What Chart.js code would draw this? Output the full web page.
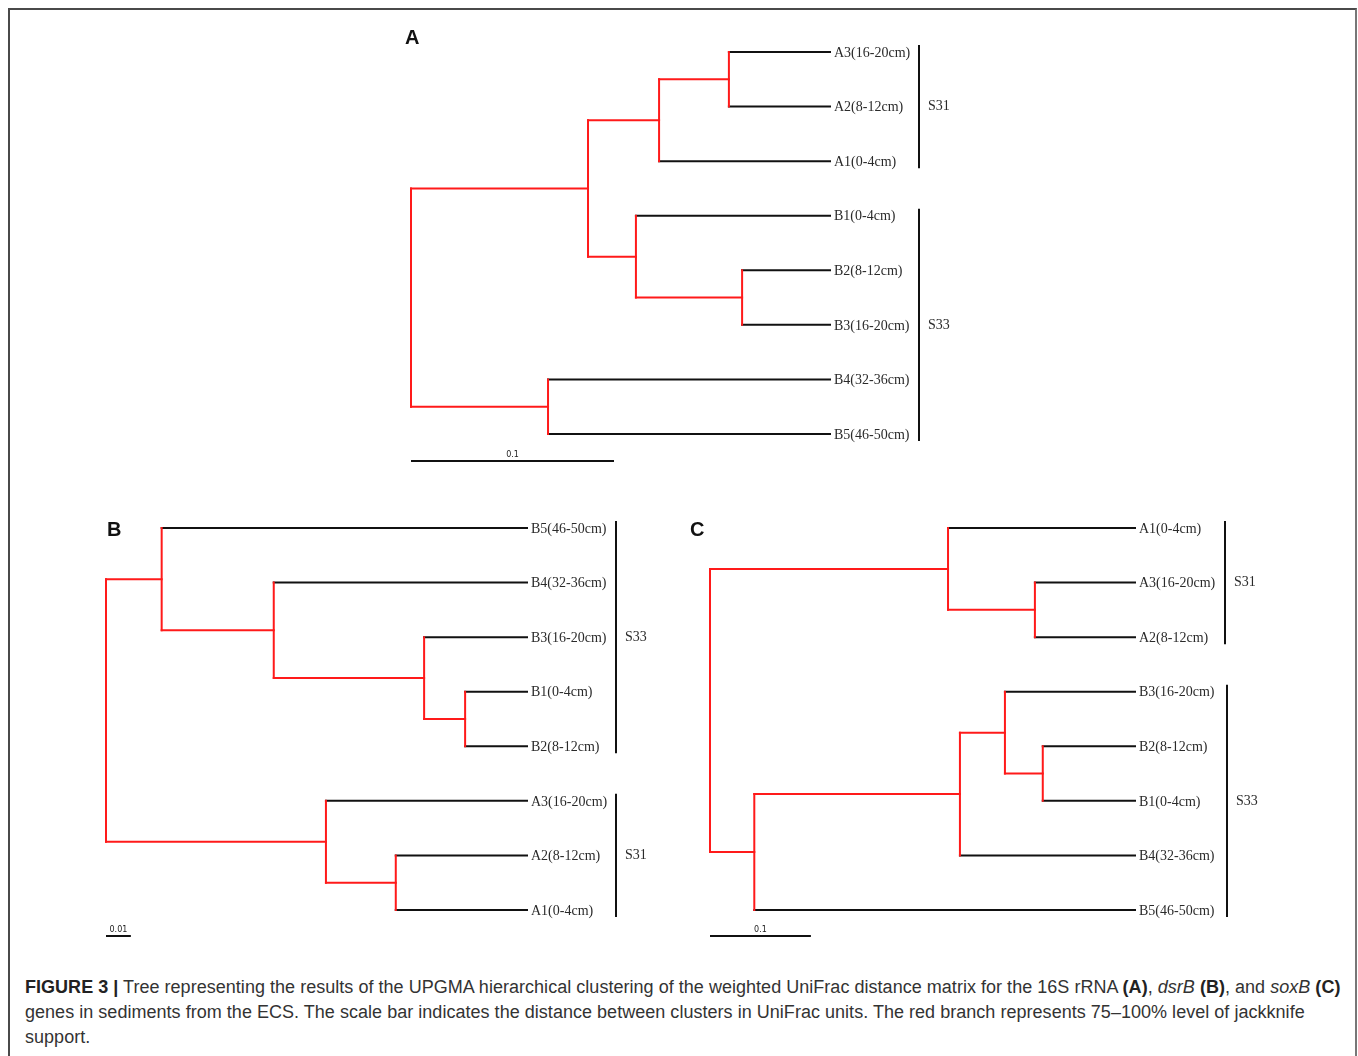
<!DOCTYPE html>
<html>
<head>
<meta charset="utf-8">
<script src="https://cdn.jsdelivr.net/npm/chart.js@4/dist/chart.umd.min.js"></script>
<style>
  html, body { margin: 0; padding: 0; background: #fff; }
  #page { position: relative; width: 1358px; height: 1056px; overflow: hidden; background: #fff; }
  #frame { position: absolute; left: 8px; top: 8px; width: 1349px; height: 1070px; box-sizing: border-box;
           border-top: 2px solid #4a4a4a; border-left: 2px solid #4a4a4a; border-right: 2px solid #777; }
  .panel { position: absolute; }
  #caption { position: absolute; left: 25px; top: 975px; white-space: nowrap;
             font-family: "Liberation Sans", Arial, Helvetica, sans-serif; font-size: 18px; letter-spacing: 0.03px; line-height: 25px; color: #333; }
  #caption b { color: #222; }
</style>
</head>
<body>
<div id="page">
  <div id="frame"></div>
  <canvas id="treeA" class="panel" width="600" height="460" style="left:380px;top:20px;"></canvas>
  <canvas id="treeB" class="panel" width="580" height="450" style="left:90px;top:500px;"></canvas>
  <canvas id="treeC" class="panel" width="620" height="450" style="left:680px;top:500px;"></canvas>
  <div id="caption"><b>FIGURE 3 |</b> Tree representing the results of the UPGMA hierarchical clustering of the weighted UniFrac distance matrix for the 16S rRNA <b>(A)</b>, <i>dsrB</i> <b>(B)</b>, and <i>soxB</i> <b>(C)</b><br>genes in sediments from the ECS. The scale bar indicates the distance between clusters in UniFrac units. The red branch represents 75–100% level of jackknife<br>support.</div>
</div>
<script>
// ---- 16S rRNA tree (A) ----
// leaves listed top to bottom; merges reference leaf indices (0..7) or earlier merges (8..)
const leavesA = ["A3(16-20cm)", "A2(8-12cm)", "A1(0-4cm)", "B1(0-4cm)", "B2(8-12cm)", "B3(16-20cm)", "B4(32-36cm)", "B5(46-50cm)"];
const mergesA = [[0, 1], [8, 2], [4, 5], [3, 10], [9, 11], [6, 7], [12, 13]];
const heightsA = [0.0498, 0.0842, 0.0433, 0.0956, 0.1192, 0.1389, 0.2064];
const groupNamesA = ["S31", "S33"];
const groupSpansA = [[0, 2], [3, 7]];
const scaleBarA = 0.1;

// ---- dsrB tree (B) ----
const leavesB = ["B5(46-50cm)", "B4(32-36cm)", "B3(16-20cm)", "B1(0-4cm)", "B2(8-12cm)", "A3(16-20cm)", "A2(8-12cm)", "A1(0-4cm)"];
const mergesB = [[3, 4], [2, 8], [1, 9], [0, 10], [6, 7], [5, 12], [11, 13]];
const heightsB = [0.0249, 0.0414, 0.1019, 0.1470, 0.0528, 0.0809, 0.1694];
const groupNamesB = ["S33", "S31"];
const groupSpansB = [[0, 4], [5, 7]];
const scaleBarB = 0.01;

// ---- soxB tree (C) ----
const leavesC = ["A1(0-4cm)", "A3(16-20cm)", "A2(8-12cm)", "B3(16-20cm)", "B2(8-12cm)", "B1(0-4cm)", "B4(32-36cm)", "B5(46-50cm)"];
const mergesC = [[1, 2], [0, 8], [4, 5], [3, 10], [11, 6], [12, 7], [9, 13]];
const heightsC = [0.0992, 0.1853, 0.0914, 0.1289, 0.1735, 0.3773, 0.4212];
const groupNamesC = ["S31", "S33"];
const groupSpansC = [[0, 2], [3, 7]];
const scaleBarC = 0.1;

const RED = "#ff1a1a";
const BLACK = "#111";

// Turn a linkage list into elbow segments: verticals at each merge, horizontals to each child.
function buildSegments(leaves, merges, heights) {
  const n = leaves.length;
  const ys = leaves.map((_, i) => i);
  const hs = leaves.map(() => 0);
  const segs = [];
  merges.forEach((pair, k) => {
    const id = n + k;
    const h = heights[k];
    const [a, b] = pair;
    ys[id] = (ys[a] + ys[b]) / 2;
    hs[id] = h;
    segs.push({ pts: [{ x: h, y: ys[a] }, { x: h, y: ys[b] }], color: RED });
    [a, b].forEach(c => {
      segs.push({ pts: [{ x: h, y: ys[c] }, { x: hs[c], y: ys[c] }], color: c < n ? BLACK : RED });
    });
  });
  return segs;
}

const treeDecor = {
  id: "treeDecor",
  afterDraw(chart, args, o) {
    const ctx = chart.ctx;
    const xs = chart.scales.x, ys = chart.scales.y;
    const area = chart.chartArea;
    ctx.save();
    // leaf labels
    ctx.fillStyle = "#2a2a2a";
    ctx.font = '14px "Liberation Serif", "Times New Roman", serif';
    ctx.textBaseline = "middle";
    ctx.textAlign = "left";
    o.leaves.forEach((name, i) => {
      ctx.fillText(name, area.right + 4, ys.getPixelForValue(i) + 1);
    });
    // site brackets
    o.groupNames.forEach((g, gi) => {
      const [from, to] = o.groupSpans[gi];
      const bx = area.right + o.groupGap + (o.groupShift ? o.groupShift[gi] : 0);
      const y0 = ys.getPixelForValue(from) - 7, y1 = ys.getPixelForValue(to) + 7;
      ctx.strokeStyle = "#111";
      ctx.lineWidth = 2;
      ctx.beginPath();
      ctx.moveTo(bx, y0);
      ctx.lineTo(bx, y1);
      ctx.stroke();
      ctx.fillStyle = "#2a2a2a";
      ctx.font = '14px "Liberation Serif", "Times New Roman", serif';
      ctx.fillText(g, bx + 9, (y0 + y1) / 2);
    });
    // scale bar
    const rootH = xs.max;
    const x0 = xs.getPixelForValue(rootH), x1 = xs.getPixelForValue(rootH - o.scaleBar);
    const by = ys.getPixelForValue(o.leaves.length - 1) + o.barDrop;
    ctx.strokeStyle = "#111";
    ctx.lineWidth = 2;
    ctx.beginPath();
    ctx.moveTo(x0, by);
    ctx.lineTo(x1, by);
    ctx.stroke();
    ctx.fillStyle = "#222";
    ctx.font = '8px "DejaVu Sans", sans-serif';
    ctx.textAlign = "center";
    ctx.textBaseline = "alphabetic";
    ctx.fillText(String(o.scaleBar), (x0 + x1) / 2, by - 4);
    // panel letter
    ctx.font = 'bold 20px "Liberation Sans", Arial, sans-serif';
    ctx.textAlign = "left";
    ctx.textBaseline = "middle";
    ctx.fillStyle = "#111";
    ctx.fillText(o.letter, o.letterPos[0], o.letterPos[1]);
    ctx.restore();
  }
};

function drawTree(canvasId, leaves, merges, heights, groupNames, groupSpans, scaleBar, letter, padding, extra) {
  const segs = buildSegments(leaves, merges, heights);
  const rootH = Math.max(...heights);
  const datasets = segs.map(s => ({
    data: s.pts,
    showLine: true,
    borderColor: s.color,
    backgroundColor: s.color,
    borderWidth: 2,
    borderCapStyle: "square",
    pointRadius: 0,
    pointHoverRadius: 0,
    clip: false
  }));
  return new Chart(document.getElementById(canvasId), {
    type: "scatter",
    data: { datasets },
    options: {
      responsive: false,
      animation: false,
      events: [],
      layout: { padding },
      scales: {
        x: { type: "linear", reverse: true, min: 0, max: rootH, display: false },
        y: { type: "linear", reverse: true, min: 0, max: leaves.length - 1, display: false }
      },
      plugins: {
        legend: { display: false },
        tooltip: { enabled: false },
        treeDecor: Object.assign({ leaves, groupNames, groupSpans, scaleBar, letter }, extra)
      }
    },
    plugins: [treeDecor]
  });
}

drawTree("treeA", leavesA, mergesA, heightsA, groupNamesA, groupSpansA, scaleBarA, "A",
  { left: 31, right: 150, top: 32, bottom: 46 },
  { groupGap: 89, barDrop: 27, letterPos: [25, 18] });
drawTree("treeB", leavesB, mergesB, heightsB, groupNamesB, groupSpansB, scaleBarB, "B",
  { left: 16, right: 143, top: 28, bottom: 40 },
  { groupGap: 89, barDrop: 26, letterPos: [17, 30] });
drawTree("treeC", leavesC, mergesC, heightsC, groupNamesC, groupSpansC, scaleBarC, "C",
  { left: 30, right: 165, top: 28, bottom: 40 },
  { groupGap: 90, groupShift: [0, 2], barDrop: 26, letterPos: [10, 30] });
</script>
</body>
</html>
